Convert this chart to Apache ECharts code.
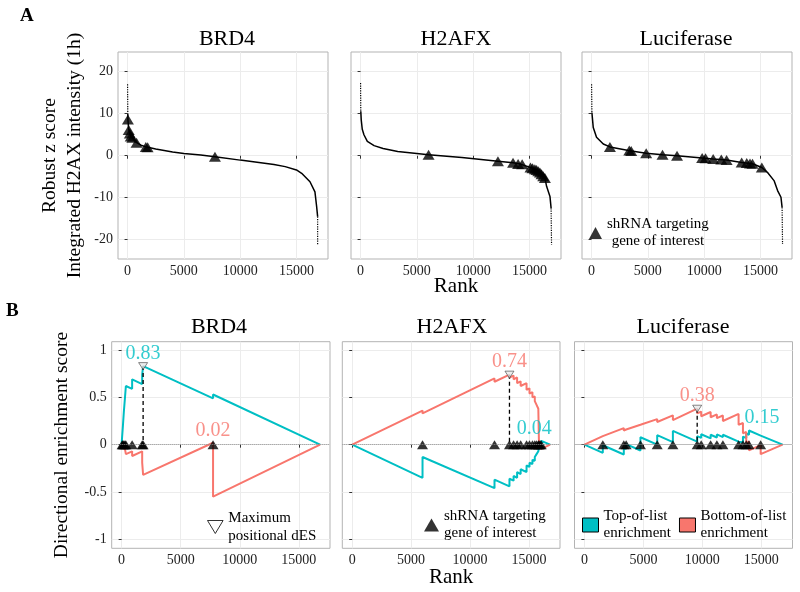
<!DOCTYPE html>
<html><head><meta charset="UTF-8">
<title>Robust z score and directional enrichment</title>
<script src="https://cdn.jsdelivr.net/npm/echarts@6/dist/echarts.min.js"></script>
<style>
  html, body { margin: 0; padding: 0; background: #fff; }
  #main { width: 800px; height: 592px; }
</style>
</head>
<body>
<div id="main"></div>
<script>
// ---------- values ----------
var panelNames = ['BRD4', 'H2AFX', 'Luciferase'];
var rankTicks = [0, 5000, 10000, 15000];
var zTicks = [-20, -10, 0, 10, 20];
var desTicks = [-1, -0.5, 0, 0.5, 1];

// A: robust z score against rank, [rank, z]
var brd4Curve = [[0,17],[20,10],[30,8.6],[100,6.3],[200,5.3],[300,4.6],[450,4.2],[800,3.1],[1200,2.5],[1700,2.05],[2500,1.6],[4000,0.9],[5000,0.55],[6500,0.15],[7760,-0.25],[10000,-1.05],[13000,-2.1],[14000,-2.6],[15000,-3.4],[15460,-4.2],[16200,-6.2],[16640,-8.6],[16790,-12.1],[16880,-14.5],[16880,-21.3]];
var h2afxCurve = [[0,17.3],[20,10.6],[60,8.5],[150,6.3],[300,5.0],[600,3.4],[1200,2.4],[2000,1.7],[3300,1.0],[6040,0.25],[9000,-0.45],[12200,-1.3],[13540,-1.7],[14200,-2.0],[15090,-2.8],[15480,-3.2],[15930,-4.0],[16370,-5.3],[16520,-7.3],[16820,-9.7],[16920,-12.5],[16960,-21.2]];
var lucCurve = [[0,17],[30,10.3],[150,6.7],[440,4.4],[1040,2.8],[1630,2.1],[3400,1.2],[4850,0.6],[6300,0.2],[7590,0],[9820,-0.55],[10800,-0.8],[11990,-1.0],[13330,-1.6],[14290,-1.9],[15120,-2.8],[15630,-4],[16220,-6],[16520,-8.3],[16820,-9.9],[16920,-12.3],[16960,-21]];

// A: shRNAs targeting the gene of interest, [rank, z]
var brd4HitsA = [[30,8.6],[100,6.1],[200,5.3],[280,4.6],[420,4.3],[800,3.1],[1620,2.1],[1780,2.0],[7760,-0.25]];
var h2afxHitsA = [[6040,0.25],[12200,-1.3],[13540,-1.7],[13990,-2.0],[14350,-2.05],[15090,-2.8],[15270,-3.0],[15480,-3.2],[15630,-3.4],[15780,-3.7],[15930,-4.0],[16070,-4.4],[16220,-4.9],[16370,-5.3]];
var lucHitsA = [[1630,2.1],[3350,1.25],[3520,1.15],[4850,0.6],[6300,0.2],[7590,0],[9820,-0.55],[10120,-0.62],[10800,-0.8],[11520,-0.92],[11990,-1.0],[13330,-1.6],[13780,-1.75],[14070,-1.85],[14290,-1.9],[15120,-2.8]];

// B: hit ranks
var brd4HitRanks = [40,110,190,280,360,890,1740,1820,7740];
var h2afxHitRanks = [5970,12080,13350,13700,14000,14300,14800,15050,15300,15500,15650,15800,15850,15950,16050];
var lucHitRanks = [1560,3340,3540,4750,6170,7500,9560,9900,10700,11230,11740,13070,13440,13720,13950,14940];

// B: top-of-list running score, [rank, dES]
var brd4Top = [[0,0],[40,0],[40,0.08],[110,0.075],[110,0.2],[190,0.2],[190,0.35],[280,0.345],[280,0.49],[360,0.49],[360,0.62],[890,0.59],[890,0.69],[1740,0.64],[1740,0.74],[1820,0.735],[1820,0.83],[7740,0.49],[7740,0.53],[16800,0]];
var h2afxTop = [[0,0],[5970,-0.35],[5970,-0.13],[12080,-0.46],[12080,-0.37],[13350,-0.44],[13350,-0.36],[13700,-0.38],[13700,-0.33],[14000,-0.35],[14000,-0.29],[14300,-0.31],[14300,-0.26],[14800,-0.29],[14800,-0.22],[15050,-0.235],[15050,-0.19],[15300,-0.205],[15300,-0.16],[15500,-0.17],[15500,-0.13],[15650,-0.14],[15650,-0.10],[15800,-0.11],[15800,-0.07],[15850,-0.073],[15850,-0.03],[15950,-0.036],[15950,0.0],[16050,-0.006],[16050,0.04],[16800,0]];
var lucTop = [[0,0],[1560,-0.086],[1560,-0.006],[3340,-0.104],[3340,-0.034],[3540,-0.045],[3540,0.005],[4750,-0.062],[4750,0.078],[6170,0.0],[6170,0.10],[7500,0.027],[7500,0.145],[9560,0.032],[9560,0.09],[9900,0.071],[9900,0.11],[10700,0.066],[10700,0.105],[11230,0.076],[11230,0.108],[11740,0.08],[11740,0.105],[13070,0.032],[13070,0.045],[13440,0.025],[13440,0.085],[13720,0.07],[13720,0.118],[13950,0.105],[13950,0.15],[14940,0.096],[14940,0.103],[16800,0]];

// B: bottom-of-list running score, [rank, dES]
var brd4Bottom = [[0,0],[40,0.002],[40,-0.02],[110,-0.016],[110,-0.035],[190,-0.03],[190,-0.05],[280,-0.045],[280,-0.065],[360,-0.06],[360,-0.10],[890,-0.07],[890,-0.12],[1740,-0.07],[1740,-0.19],[1820,-0.185],[1820,-0.32],[7740,0.02],[7740,-0.55],[16800,0]];
var h2afxBottom = [[0,0],[5970,0.36],[5970,0.33],[12080,0.70],[12080,0.665],[13350,0.74],[13350,0.71],[13700,0.73],[13700,0.69],[14000,0.71],[14000,0.65],[14300,0.67],[14300,0.62],[14800,0.65],[14800,0.58],[15050,0.595],[15050,0.54],[15300,0.555],[15300,0.50],[15500,0.51],[15500,0.46],[15650,0.47],[15650,0.42],[15800,0.43],[15800,0.38],[15850,0.383],[15850,0.05],[15950,0.056],[15950,0.0],[16050,0.006],[16050,-0.045],[16800,0]];
var lucBottom = [[0,0],[1560,0.09],[1560,0.075],[3340,0.175],[3340,0.15],[3540,0.16],[3540,0.14],[4750,0.21],[4750,0.19],[6170,0.27],[6170,0.24],[7500,0.31],[7500,0.26],[9560,0.38],[9560,0.33],[9900,0.35],[9900,0.30],[10700,0.345],[10700,0.29],[11230,0.32],[11230,0.28],[11740,0.308],[11740,0.25],[13070,0.325],[13070,0.21],[13440,0.23],[13440,0.12],[13720,0.135],[13720,0.02],[13950,0.033],[13950,-0.06],[14940,-0.005],[14940,-0.1],[16800,0]];

// B: maxima of each running score, [rank, dES]
var brd4Peaks = [[1820,0.83],[7740,0.02]];
var h2afxPeaks = [[16050,0.04],[13350,0.74]];
var lucPeaks = [[13950,0.15],[9560,0.38]];

// ---------- chart ----------
var FONT = 'Liberation Serif';
var TEAL = '#00BFC4', SALMON = '#F8766D';

var gridA = [[118,52,210,207],[351,52,210,207],[582,52,210,207]];
var gridB = [[111.7,341.7,218.3,206.6],[342.3,341.7,217.7,206.6],[574.5,341.7,218,206.6]];
var labelShift = [[[0,0],[0,0]], [[-7,0],[0,0]], [[13,0],[0,0]]];

var panelsA = [
  {curve: brd4Curve, hits: brd4HitsA},
  {curve: h2afxCurve, hits: h2afxHitsA},
  {curve: lucCurve, hits: lucHitsA}
];
var panelsB = [
  {top: brd4Top, bottom: brd4Bottom, hits: brd4HitRanks, peaks: brd4Peaks},
  {top: h2afxTop, bottom: h2afxBottom, hits: h2afxHitRanks, peaks: h2afxPeaks},
  {top: lucTop, bottom: lucBottom, hits: lucHitRanks, peaks: lucPeaks}
];

var chart = echarts.init(document.getElementById('main'), null, {renderer: 'canvas'});
var option = {animation: false, backgroundColor: '#fff', title: [], grid: [], xAxis: [], yAxis: [], legend: [], series: []};

function rawLabel(v) { return String(v); }

function addGrid(g) {
  option.grid.push({left: g[0], top: g[1], width: g[2], height: g[3], show: true,
    borderColor: '#b3b3b3', borderWidth: 1, backgroundColor: '#fff', outerBoundsMode: 'none'});
}

function addXAxis(gi, min, max, withName, nameGap) {
  option.xAxis.push({type: 'value', gridIndex: gi, min: min, max: max,
    axisLine: {show: false},
    axisTick: {show: true, length: 3, customValues: rankTicks, lineStyle: {color: '#333'}},
    axisLabel: {customValues: rankTicks, formatter: rawLabel, fontFamily: FONT, fontSize: 14, color: '#222', margin: 5},
    splitLine: {show: true, lineStyle: {color: '#ececec', width: 1}},
    name: withName ? 'Rank' : '', nameLocation: 'middle', nameGap: nameGap, nameMoveOverlap: false,
    nameTextStyle: {fontFamily: FONT, fontSize: 21, color: '#000'}});
}

function addYAxis(gi, min, max, ticks, showLabels, name, nameGap) {
  option.yAxis.push({type: 'value', gridIndex: gi, min: min, max: max,
    axisLine: {show: false},
    axisTick: {show: true, length: 3, customValues: ticks, lineStyle: {color: '#333'}},
    axisLabel: {show: showLabels, customValues: ticks, formatter: rawLabel, fontFamily: FONT, fontSize: 14, color: '#222', margin: 5},
    splitLine: {show: true, lineStyle: {color: '#ececec', width: 1}},
    name: name || '', nameLocation: 'middle', nameRotate: 90, nameGap: nameGap || 0, nameMoveOverlap: false,
    nameTextStyle: {fontFamily: FONT, fontSize: 19.5, lineHeight: 25, color: '#000'}});
}

function addTitle(text, cx, top) {
  option.title.push({text: text, left: cx, top: top, textAlign: 'center', padding: 0,
    textStyle: {fontFamily: FONT, fontSize: 22, fontWeight: 'normal', color: '#000'}});
}

// panel letters
option.title.push({text: 'A', left: 20, top: 7, padding: 0, textStyle: {fontFamily: FONT, fontSize: 19, fontWeight: 'bold', color: '#000'}});
option.title.push({text: 'B', left: 6, top: 302, padding: 0, textStyle: {fontFamily: FONT, fontSize: 19, fontWeight: 'bold', color: '#000'}});

var titleXA = [227, 456, 686], titleXB = [219, 452, 683];

panelsA.forEach(function (p, i) {
  addGrid(gridA[i]);
  addXAxis(i, -850, 17800, i === 1, 17);
  addYAxis(i, -24.6, 24.7, zTicks, i === 0, i === 0 ? 'Robust z score\nIntegrated H2AX intensity (1h)' : '', 31);
  addTitle(panelNames[i], titleXA[i], 28.5);

  var n = p.curve.length;
  option.series.push({type: 'line', name: 'rank tail', xAxisIndex: i, yAxisIndex: i, data: p.curve.slice(0, 2),
    symbol: 'none', lineStyle: {color: '#000', width: 1.2, type: 'dotted'}});
  option.series.push({type: 'line', name: 'rank tail', xAxisIndex: i, yAxisIndex: i, data: p.curve.slice(n - 2),
    symbol: 'none', lineStyle: {color: '#000', width: 1.2, type: 'dotted'}});
  option.series.push({type: 'line', name: 'rank', xAxisIndex: i, yAxisIndex: i, data: p.curve.slice(1, n - 1),
    symbol: 'none', lineStyle: {color: '#000', width: 1.5}});
  option.series.push({type: 'scatter', name: 'shRNA', xAxisIndex: i, yAxisIndex: i, data: p.hits,
    symbol: 'triangle', symbolSize: [12, 10], itemStyle: {color: '#000'}, z: 3});
});

panelsB.forEach(function (p, i) {
  var gi = 3 + i;
  addGrid(gridB[i]);
  addXAxis(gi, -840, 17640, i === 1, 19);
  addYAxis(gi, -1.095, 1.088, desTicks, i === 0, i === 0 ? 'Directional enrichment score' : '', 37);
  addTitle(panelNames[i], titleXB[i], 316.5);

  option.series.push({type: 'line', name: 'Top-of-list enrichment', xAxisIndex: gi, yAxisIndex: gi, data: p.top,
    symbol: 'none', color: TEAL, lineStyle: {color: TEAL, width: 2},
    markLine: {silent: true, symbol: 'none', label: {show: false},
      lineStyle: {color: '#8c8c8c', type: 'dotted', width: 1}, data: [{yAxis: 0}]}});
  option.series.push({type: 'line', name: 'Bottom-of-list enrichment', xAxisIndex: gi, yAxisIndex: gi, data: p.bottom,
    symbol: 'none', color: SALMON, lineStyle: {color: SALMON, width: 2}});

  var dom = p.peaks[0][1] >= p.peaks[1][1] ? p.peaks[0] : p.peaks[1];
  option.series.push({type: 'line', name: 'drop', xAxisIndex: gi, yAxisIndex: gi, data: [dom, [dom[0], 0]],
    symbol: 'none', lineStyle: {color: '#000', width: 1.3, type: [4, 3]}});
  option.series.push({type: 'scatter', name: 'shRNA', xAxisIndex: gi, yAxisIndex: gi,
    data: p.hits.map(function (r) { return [r, 0]; }),
    symbol: 'triangle', symbolSize: [11, 9], itemStyle: {color: '#000'}, z: 3});
  option.series.push({type: 'scatter', name: 'Maximum positional dES', xAxisIndex: gi, yAxisIndex: gi, data: [dom],
    symbol: 'triangle', symbolRotate: 180, symbolSize: [9, 7],
    itemStyle: {color: '#e8e8e8', borderColor: '#444', borderWidth: 0.8}, z: 4});

  [TEAL, SALMON].forEach(function (c, k) {
    option.series.push({type: 'scatter', name: 'peak label', xAxisIndex: gi, yAxisIndex: gi, data: [p.peaks[k]],
      symbolSize: 1, itemStyle: {color: 'rgba(0,0,0,0)'}, z: 5,
      label: {show: true, position: 'top', distance: 2, offset: labelShift[i][k],
        formatter: function (q) { return q.value[1].toFixed(2); },
        fontFamily: FONT, fontSize: 20, color: c}});
  });
});

var legText = {fontFamily: FONT, fontSize: 15, color: '#000'};
option.legend.push({selectedMode: false, left: 589, top: 216, padding: 0, itemWidth: 13, itemHeight: 12,
  data: [{name: 'shRNA', icon: 'triangle', itemStyle: {color: '#000'}}],
  formatter: function () { return '{c|shRNA targeting}\n{c|gene of interest}'; },
  textStyle: Object.assign({lineHeight: 17, rich: {c: {align: 'center', fontFamily: FONT, fontSize: 15, lineHeight: 17, color: '#000'}}}, legText)});
option.legend.push({selectedMode: false, left: 207, top: 509, padding: 0, itemWidth: 16, itemHeight: 13,
  data: [{name: 'Maximum positional dES', icon: 'path://M0,0L12,0L6,10Z',
    itemStyle: {color: '#fff', borderColor: '#000', borderWidth: 1}}],
  formatter: function () { return 'Maximum\npositional dES'; },
  textStyle: Object.assign({lineHeight: 18}, legText)});
option.legend.push({selectedMode: false, left: 424, top: 508, padding: 0, itemWidth: 15, itemHeight: 13,
  data: [{name: 'shRNA', icon: 'triangle', itemStyle: {color: '#000'}}],
  formatter: function () { return 'shRNA targeting\ngene of interest'; },
  textStyle: Object.assign({lineHeight: 17}, legText)});
option.legend.push({selectedMode: false, left: 582, top: 508, padding: 0, itemWidth: 16, itemHeight: 14, itemGap: 8,
  data: [
    {name: 'Top-of-list enrichment', icon: 'rect', itemStyle: {color: TEAL, borderColor: '#000', borderWidth: 1}},
    {name: 'Bottom-of-list enrichment', icon: 'rect', itemStyle: {color: SALMON, borderColor: '#000', borderWidth: 1}}
  ],
  formatter: function (name) { return name.replace(' enrichment', '\nenrichment'); },
  textStyle: Object.assign({lineHeight: 17}, legText)});

chart.setOption(option);
</script>
</body></html>
